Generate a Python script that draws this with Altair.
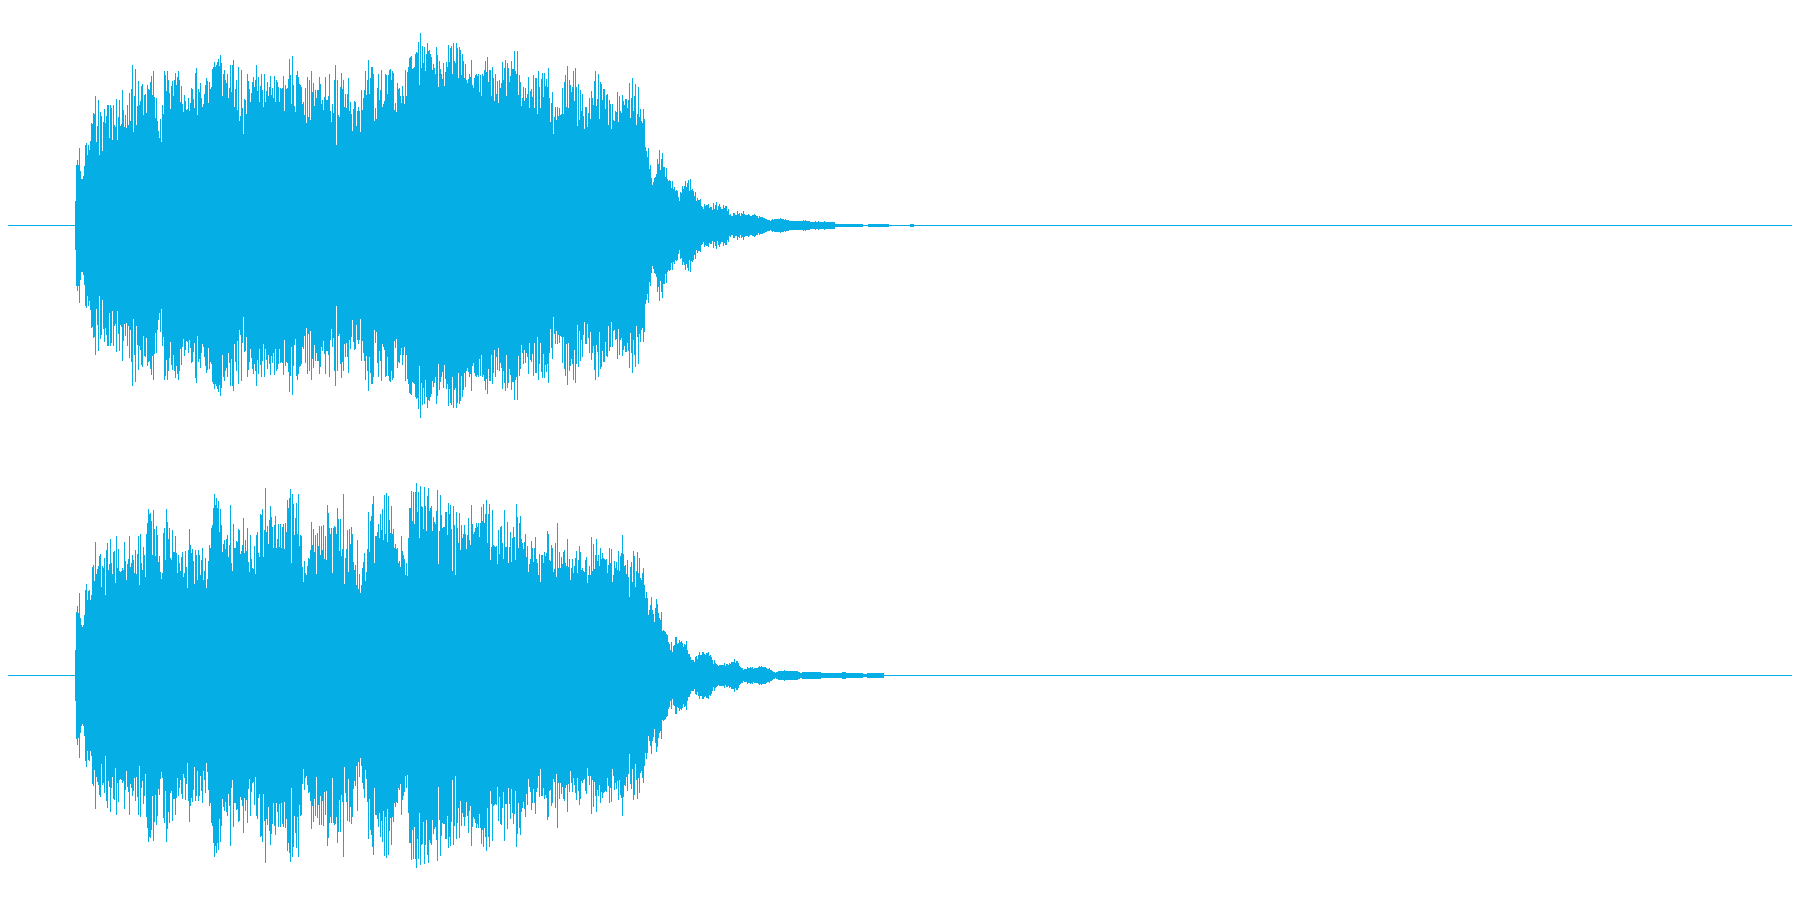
import altair as alt
import pandas as pd

FIRST_SAMPLE = 75
COLOR = "#06AEE6"

# Peak amplitude per column for each channel
left_amp = [
24,60,65,60,77,54,46,46,49,59,80,82,70,80,75,84,102,101,112,111,129,83,99,125,70,113,109,74,103,116,102,109,120,120,87,120,117,85,120,100,98,126,85,108,125,99,101,135,115,98,110,97,120,100,132,104,136,160,93,129,156,100,119,144,120,124,139,141,110,130,131,112,140,136,135,143,149,130,154,128,107,127,104,94,87,106,83,120,111,154,150,134,154,145,132,116,139,144,129,145,152,140,148,154,145,123,139,121,113,130,124,115,116,127,114,122,137,136,126,117,152,157,110,136,133,142,127,118,121,131,140,147,144,122,143,136,138,156,158,163,158,160,163,166,159,170,162,129,151,155,145,142,151,127,137,160,133,160,165,118,136,145,115,158,104,109,155,117,91,126,125,111,151,144,136,123,132,143,148,138,145,160,134,148,123,139,151,135,118,151,123,134,143,129,138,149,130,137,127,149,123,145,143,138,123,137,136,137,149,114,140,136,137,146,166,150,121,169,140,119,113,150,154,148,141,140,138,121,123,110,137,102,148,108,145,105,154,133,142,119,135,127,135,135,148,141,121,125,115,128,148,125,125,129,151,114,103,121,112,145,160,80,145,110,108,138,152,136,145,118,131,117,131,147,114,123,111,94,116,124,123,99,114,118,114,93,135,115,127,135,154,130,145,165,131,147,158,158,151,104,117,106,137,151,125,135,155,118,121,124,151,150,131,150,155,156,145,154,152,115,122,113,142,136,137,129,122,139,129,121,155,129,153,158,167,168,169,156,157,158,171,173,172,183,140,192,157,179,162,178,154,171,182,174,175,171,168,155,161,157,151,178,170,138,164,
156,151,146,162,139,153,163,158,180,163,177,179,151,182,164,162,182,177,147,178,175,150,171,164,147,161,145,142,146,151,148,165,140,137,147,150,151,149,151,133,150,129,151,149,155,164,153,168,143,155,155,129,158,147,124,151,131,144,122,145,137,142,163,145,157,165,129,162,157,143,149,164,156,156,174,154,151,174,130,150,143,119,127,138,124,137,127,131,148,117,134,136,128,150,117,147,147,111,154,138,117,146,152,128,152,139,146,138,157,127,103,122,133,91,108,118,105,118,109,117,110,111,137,111,143,150,118,159,117,145,140,133,138,154,124,157,138,99,141,105,135,114,131,109,96,118,118,98,112,127,106,134,127,120,144,154,119,126,151,106,143,141,125,136,136,116,130,131,100,125,121,96,121,105,104,114,113,133,103,129,114,112,130,124,120,126,126,117,125,142,107,127,147,114,129,141,100,111,138,108,116,104,102,116,106,
78,74,68,77,56,60,47,40,43,47,48,51,66,61,75,55,66,72,58,58,48,57,46,44,45,44,37,44,36,38,34,35,34,28,24,33,32,39,36,39,44,38,42,45,34,46,35,36,34,29,33,24,27,25,25,26,19,18,16,21,19,20,20,21,17,18,18,15,22,16,20,23,15,19,21,18,16,16,20,17,19,19,14,16,10,11,9,9,12,12,10,10,14,11,12,9,12,11,14,11,10,10,10,11,10,9,9,10,10,11,10,9,9,7,9,8,8,8,7,7,6,6,5,5,5,4,5,6,5,6,6,6,6,6,6,7,6,6,6,5,6,5,5,5,4,4,4,4,4,4,4,4,4,4,4,4,4,4,5,4,5,4,4,4,4,
3,3,3,3,3,4,3,3,4,3,3,3,3,3,4,3,3,3,3,3,3,3,3,3,3,
1,1,1,1,1,1,1,1,1,1,1,1,1,1,1,1,1,1,1,1,1,1,1,1,1,1,1,1,
0,0,0,0,0,
1,1,1,1,1,1,1,1,1,1,1,1,1,1,1,1,1,1,1,1,1,
0,0,0,0,0,0,0,0,0,0,0,0,0,0,0,0,0,0,0,0,0,
1,1,1,1,
]

right_amp = [
25,63,69,62,82,57,50,48,50,60,85,91,75,84,85,75,80,108,110,94,133,101,106,109,119,121,88,109,107,117,80,125,132,105,111,136,112,101,123,124,92,139,107,126,104,103,104,107,105,133,114,95,111,116,139,108,112,120,115,102,125,101,121,139,90,141,112,105,128,120,98,141,152,166,161,162,154,120,165,146,119,149,140,113,119,103,96,102,142,147,115,166,153,136,147,117,115,145,123,123,139,122,102,120,112,104,118,123,98,102,124,108,87,125,146,130,122,126,114,91,125,120,95,125,120,100,115,127,95,104,117,87,96,114,130,127,147,150,167,181,170,177,167,174,143,166,150,123,131,135,126,136,140,118,130,170,112,104,151,127,127,134,133,146,145,121,124,130,157,122,135,124,147,113,103,140,116,107,106,129,101,140,143,122,118,161,160,166,118,145,187,143,149,131,155,169,158,148,127,150,159,127,136,151,128,151,127,148,151,126,152,143,175,167,177,186,112,181,171,140,157,172,141,181,129,140,139,108,93,114,102,100,109,117,116,125,153,130,146,123,140,101,142,129,149,120,149,125,150,116,139,115,170,162,147,141,147,102,147,149,148,141,167,156,124,156,119,126,181,91,117,126,145,103,146,131,148,141,113,105,110,90,135,86,101,82,90,107,113,122,94,103,126,163,123,154,159,171,179,112,139,139,143,151,137,161,145,166,135,180,141,182,133,179,155,142,169,141,146,127,131,126,127,112,114,108,139,124,120,116,100,112,99,137,167,167,184,154,183,151,183,192,163,183,137,189,169,168,146,188,169,144,179,187,164,167,169,144,158,153,151,164,185,111,144,
180,160,147,148,148,163,163,140,172,161,170,146,104,169,150,100,163,147,132,162,125,150,137,141,150,141,126,140,157,135,130,170,151,141,143,147,152,148,152,138,152,168,154,171,152,161,175,132,161,171,115,128,165,130,129,128,129,111,145,121,148,149,132,116,165,128,128,153,112,128,143,113,137,148,138,115,171,158,127,152,159,136,132,126,133,141,118,129,103,111,116,134,127,113,127,138,116,112,100,121,93,120,120,112,123,119,122,144,141,115,114,130,127,103,106,132,98,152,107,123,107,118,111,123,125,112,109,136,108,116,95,107,116,102,109,117,124,102,115,129,123,105,107,104,103,115,118,92,100,109,100,138,104,131,106,120,136,114,120,109,127,116,122,117,116,115,116,102,110,127,112,126,93,100,114,107,113,105,124,104,119,122,140,121,109,110,101,115,98,78,108,113,93,124,119,88,104,123,102,117,97,95,102,107,
90,77,83,77,60,65,70,78,65,61,53,67,76,71,62,57,55,63,44,45,44,43,41,40,33,31,25,33,23,29,30,38,38,31,32,35,33,34,32,28,31,30,34,25,21,21,18,15,15,15,13,18,19,16,20,23,20,20,23,23,21,20,22,22,23,19,20,18,15,11,15,12,11,10,9,10,10,10,10,10,12,9,11,11,10,12,11,13,13,13,16,12,14,14,12,9,8,7,7,5,6,6,6,8,7,7,8,7,8,6,7,7,7,7,8,9,8,9,8,8,8,8,7,6,6,7,5,5,4,3,3,2,3,3,
4,4,4,4,4,4,5,4,4,4,4,4,4,4,4,4,4,4,4,4,3,3,2,2,
3,3,3,3,3,3,3,3,3,3,3,3,3,3,3,3,3,3,3,
2,2,2,2,2,2,2,2,2,2,2,2,2,2,2,2,2,2,2,2,2,
3,3,3,3,
2,2,2,2,2,2,2,2,2,2,2,2,2,2,2,2,2,
1,1,1,1,
2,2,2,2,2,2,2,2,2,2,2,2,2,2,2,2,2,
]


def panel(amps, height, top_value, bottom_value):
    df = pd.DataFrame({"col": range(FIRST_SAMPLE, FIRST_SAMPLE + len(amps)), "amp": amps})
    df["col_end"] = df["col"] + 1
    df["hi"] = df["amp"] + 0.5
    df["lo"] = -df["hi"]
    x = alt.X("col:Q", axis=None, scale=alt.Scale(domain=[8, 1792], nice=False, zero=False))
    y = alt.Y("hi:Q", axis=None, scale=alt.Scale(domain=[bottom_value, top_value], nice=False, zero=False))
    wave = alt.Chart(df).mark_rect(color=COLOR).encode(x=x, x2="col_end:Q", y=y, y2="lo:Q")
    base = pd.DataFrame({"col": [8], "col_end": [1792], "hi": [0.5], "lo": [-0.5]})
    line = alt.Chart(base).mark_rect(color=COLOR).encode(x=x, x2="col_end:Q", y=y, y2="lo:Q")
    return (line + wave).properties(width=1784, height=height)


chart = alt.vconcat(
    panel(left_amp, 442, 217.5, -224.5),
    panel(right_amp, 434, 225.5, -208.5),
    spacing=0,
).properties(padding=0, background="white").configure_view(stroke=None).configure_concat(spacing=0)

chart.save("out.html", embed_options={"renderer": "svg", "actions": False})
